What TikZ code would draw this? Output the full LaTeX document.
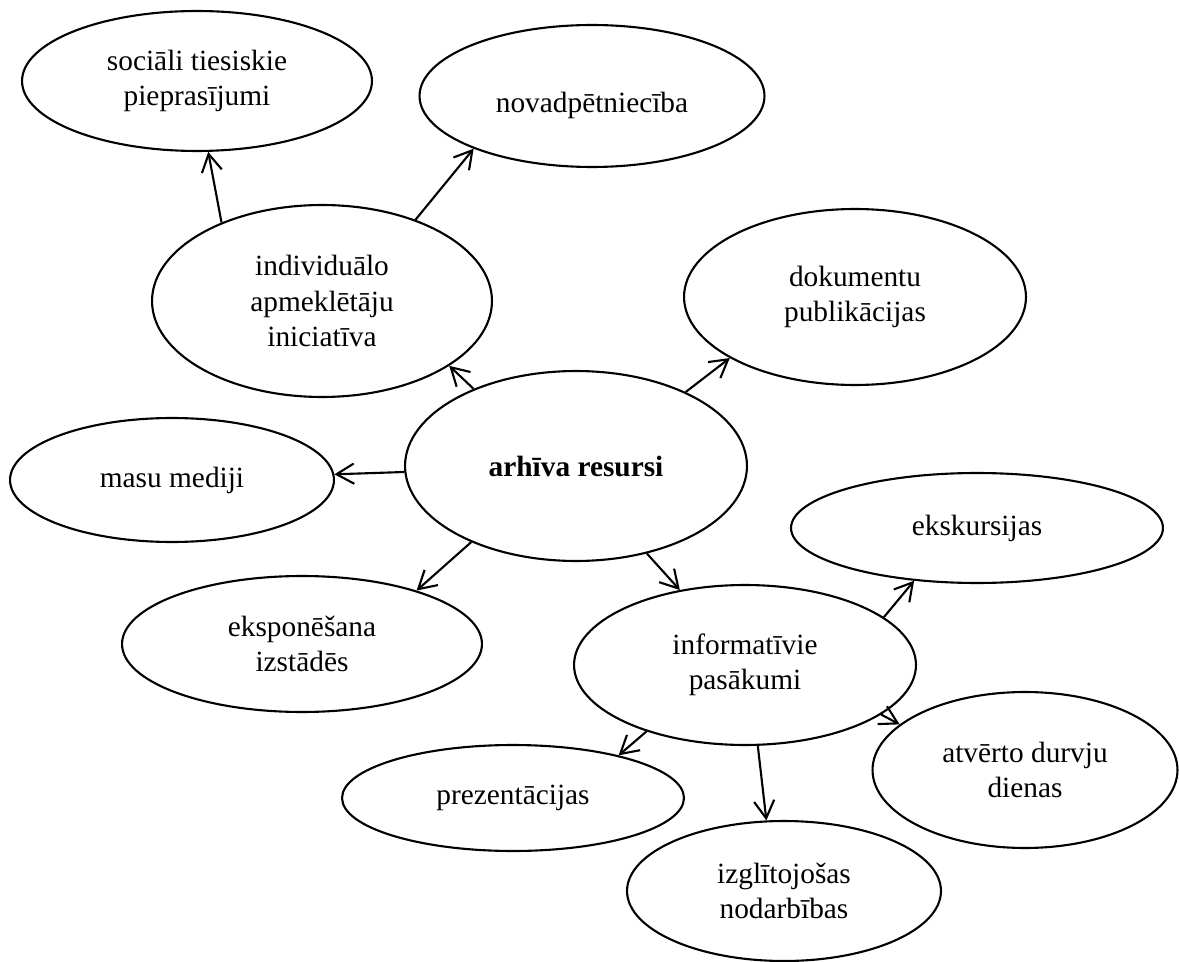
\documentclass[tikz,border=0pt]{standalone}
\usepackage{fontspec}
\setmainfont{Liberation Serif}
\usetikzlibrary{shapes.geometric,arrows.meta}

\begin{document}
\begin{tikzpicture}[x=0.02cm,y=-0.02cm,line width=1.2pt,
    >={Straight Barb[length=10pt,width=11.5pt]},
    bubble/.style={ellipse,draw,inner sep=0pt,align=center,
      font=\fontsize{16.7}{20}\selectfont}]
  \useasboundingbox (0,0) rectangle (1179,962) ;
  % centre
  \node[bubble,minimum width=6.84cm,minimum height=3.8cm] (arh) at (576,466) {\textbf{arhīva resursi}} ;
  % upper part
  \node[bubble,minimum width=7cm,minimum height=2.8cm] (soc) at (197,81) {sociāli tiesiskie\\pieprasījumi} ;
  \node[bubble,minimum width=6.9cm,minimum height=2.84cm,text height=0.8cm] (nov) at (592,96) {novadpētniecība} ;
  \node[bubble,minimum width=6.8cm,minimum height=3.84cm] (ind) at (322,301) {individuālo\\apmeklētāju\\iniciatīva} ;
  \node[bubble,minimum width=6.84cm,minimum height=3.52cm] (dok) at (855,297) {dokumentu\\publikācijas} ;
  % left and lower part
  \node[bubble,minimum width=6.48cm,minimum height=2.48cm] (mas) at (172,480) {masu mediji} ;
  \node[bubble,minimum width=7.2cm,minimum height=2.72cm] (eksp) at (302,644) {eksponēšana\\izstādēs} ;
  \node[bubble,minimum width=6.84cm,minimum height=3.2cm] (inf) at (745,665) {informatīvie\\pasākumi} ;
  \node[bubble,minimum width=7.44cm,minimum height=2.2cm] (eks) at (977,528) {ekskursijas} ;
  \node[bubble,minimum width=6.84cm,minimum height=2.12cm] (prez) at (513,798) {prezentācijas} ;
  \node[bubble,minimum width=6.1cm,minimum height=3.12cm] (atv) at (1025,770) {atvērto durvju\\dienas} ;
  \node[bubble,minimum width=6.28cm,minimum height=2.8cm] (izg) at (784,891) {izglītojošas\\nodarbības} ;
  % arrows
  \draw[->] (ind.142) -- (soc.-81) ;
  \draw[->] (ind.41) -- (nov.204) ;
  \draw[->] (arh.143) -- (ind.-27) ;
  \draw[->] (arh.34) -- (dok.206) ;
  \draw[->] (arh.182) -- (mas.2) ;
  \draw[->] (arh.216) -- (eksp.25) ;
  \draw[->] (arh.-51) -- (inf.131) ;
  \draw[->] (inf.19) -- (eks.220) ;
  \draw[->] (inf.-20) -- (atv.160) ;
  \draw[->] (inf.214) -- (prez.22) ;
  \draw[->] (inf.-81) -- (izg.104) ;
\end{tikzpicture}
\end{document}
